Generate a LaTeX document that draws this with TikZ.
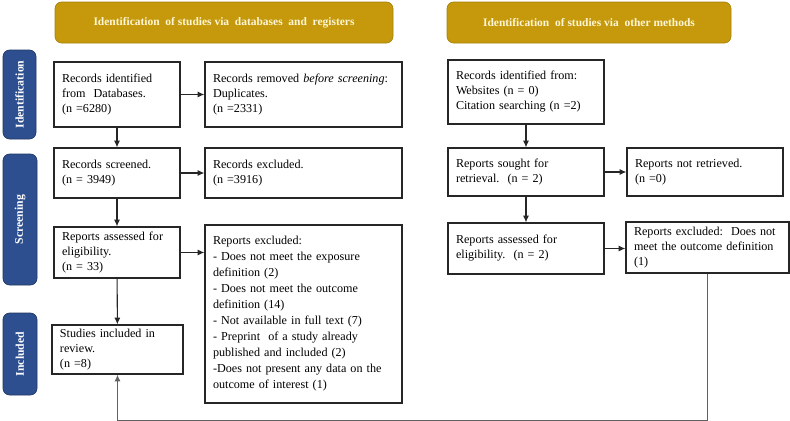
\documentclass[tikz,border=0pt]{standalone}
\usepackage{fontspec}
\setmainfont{Liberation Serif}
\usetikzlibrary{arrows.meta}

\definecolor{hdrgold}{RGB}{197,153,11}
\definecolor{sideblue}{RGB}{46,79,143}
\definecolor{hdrtext}{RGB}{255,246,214}

\tikzset{every picture/.style={line width=0.75pt}}
\tikzset{
  hdr/.style={draw=hdrgold!85!black, line width=0.5pt, fill=hdrgold, rounded corners=5pt, text=hdrtext, font=\bfseries\fontsize{8.6}{10}\selectfont},
  side/.style={draw=sideblue!70!black, line width=0.5pt, fill=sideblue, rounded corners=5pt, text=white, font=\bfseries\fontsize{8.8}{10}\selectfont},
  box/.style={draw=black!85, line width=0.9pt, align=left, inner xsep=6pt, inner ysep=2pt, font=\fontsize{9.1}{11.25}\selectfont},
  arr/.style={-{Latex[length=5pt,width=4.5pt]}, line width=0.8pt, black!85},
  back/.style={-{Latex[length=5pt,width=4.5pt]}, line width=1.3pt, black!62},
}

\begin{document}
\begin{tikzpicture}[x=0.75pt,y=0.75pt,yscale=-1,xscale=1]
\useasboundingbox (0,0) rectangle (790,421);

%Shape: Rounded Rect (headers)
\node [hdr, minimum width=253.5pt, minimum height=30.75pt] (hdrdb) at (224,22.5) {Identification\ \ of studies via\ \ databases\ \ and\ \ registers};
\node [hdr, minimum width=213pt, minimum height=30.75pt] (hdrother) at (589,22.5) {Identification\ \ of studies via\ \ other methods};

%Shape: Rounded Rect (stages)
\node [side, rotate=90, minimum width=66.75pt, minimum height=24.75pt] (sideid) at (19.5,94.5) {Identification};
\node [side, rotate=90, minimum width=98.25pt, minimum height=25.5pt] (sidescr) at (20,219.5) {Screening};
\node [side, rotate=90, minimum width=61.5pt, minimum height=25.5pt] (sideinc) at (20,354) {Included};

%Shape: Rectangle (databases)
\node [box, text width=82.5pt, minimum height=48.75pt] (recid) at (117,94.5) {Records identified\\from\ \ Databases.\\(n =6280)};
\node [box, text width=135.75pt, minimum height=48.75pt] (recrem) at (303.5,94.5) {Records removed \textit{before screening}:\\Duplicates.\\(n =2331)};
\node [box, text width=82.5pt, minimum height=37.5pt] (recscr) at (117,173) {Records screened.\\(n = 3949)};
\node [box, text width=135.75pt, minimum height=37.5pt] (recexc) at (303.5,173) {Records excluded.\\(n =3916)};
\node [box, text width=82.5pt, minimum height=38.25pt] (repass) at (117,252.5) {Reports assessed for\\eligibility.\\(n = 33)};
\node [box, text width=135.75pt, minimum height=133.5pt, font=\fontsize{9.1}{12}\selectfont] (repexc) at (303.5,314) {Reports excluded:\\- Does not meet the exposure\\definition (2)\\- Does not meet the outcome\\definition (14)\\- Not available in full text (7)\\- Preprint\ \ of a study already\\published and included (2)\\-Does not present any data on the\\outcome of interest (1)};
\node [box, text width=86.25pt, minimum height=36.75pt] (studinc) at (117.5,349.5) {Studies included in\\review.\\(n =8)};

%Shape: Rectangle (other methods)
\node [box, text width=105pt, minimum height=48pt] (othid) at (526,92) {Records identified from:\\Websites (n = 0)\\Citation searching (n =2)};
\node [box, text width=105pt, minimum height=36pt] (rsought) at (526,172) {Reports sought for\\retrieval.\ \ (n = 2)};
\node [box, text width=105pt, minimum height=36pt] (rnotret) at (705,172) {Reports not retrieved.\\(n =0)};
\node [box, text width=105pt, minimum height=38.25pt] (rassess) at (526,248.5) {Reports assessed for\\eligibility.\ \ (n = 2)};
\node [box, text width=110.25pt, minimum height=38.25pt] (rexcl) at (707.5,247.5) {Reports excluded:\ \ Does not\\meet the outcome definition\\(1)};

%Straight Lines [arrows]
\draw [arr] (recid) -- (recrem);
\draw [arr] (recid) -- (recscr);
\draw [arr] (recscr) -- (recexc);
\draw [arr] (recscr) -- (repass);
\draw [arr] (repass.east) -- (repass.east -| repexc.west);
\draw [arr] (repass) -- (studinc);
\draw [arr] (othid) -- (rsought);
\draw [arr] (rsought) -- (rnotret);
\draw [arr] (rsought) -- (rassess);
\draw [arr] (rassess.east) -- (rassess.east -| rexcl.west);
\draw [back] (rexcl.south) -- ++(0,147) -| (studinc.south);

\end{tikzpicture}
\end{document}
